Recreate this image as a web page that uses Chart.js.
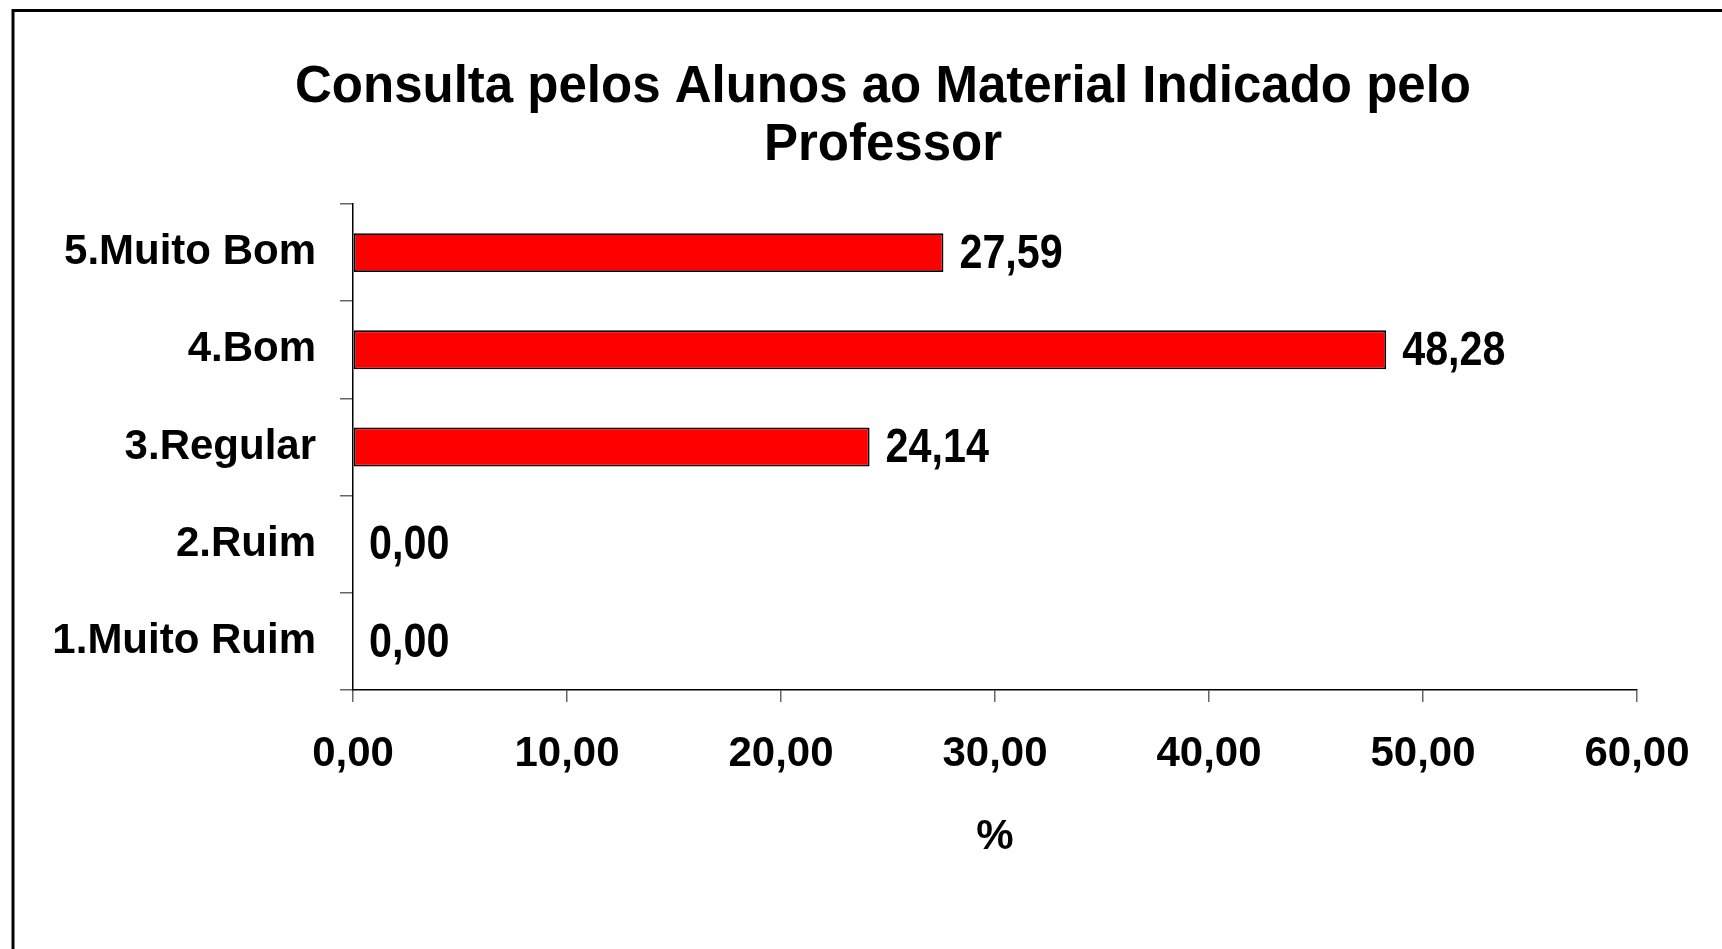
<!DOCTYPE html>
<html>
<head>
<meta charset="utf-8">
<script src="https://cdn.jsdelivr.net/npm/chart.js@4.4.1/dist/chart.umd.min.js"></script>
<style>
  html, body { margin: 0; padding: 0; background: #ffffff; overflow: hidden; }
  canvas { display: block; }
</style>
</head>
<body>
<canvas id="c" width="1722" height="949"></canvas>
<script>
// ---- data ----
const titleLines = ['Consulta pelos Alunos ao Material Indicado pelo', 'Professor'];
const categories = ['1.Muito Ruim', '2.Ruim', '3.Regular', '4.Bom', '5.Muito Bom'];
const values = [0.00, 0.00, 24.14, 48.28, 27.59];
const xTickLabels = ['0,00', '10,00', '20,00', '30,00', '40,00', '50,00', '60,00'];
const xAxisTitle = '%';

const FONT = "'Liberation Sans', Arial, Helvetica, sans-serif";

function fmt(v) { return v.toFixed(2).replace('.', ','); }

const framePlugin = {
  id: 'frame',
  beforeDraw(chart) {
    const ctx = chart.ctx;
    ctx.save();
    ctx.fillStyle = '#ffffff';
    ctx.fillRect(0, 0, chart.width, chart.height);
    ctx.strokeStyle = '#000000';
    ctx.lineWidth = 3;
    ctx.strokeRect(13, 10.5, chart.width + 50, chart.height + 50);
    // chart title (two centred lines)
    ctx.fillStyle = '#000000';
    ctx.font = "bold 51px " + FONT;
    ctx.textAlign = 'center';
    ctx.textBaseline = 'middle';
    const cx = 883;
    const ys = [88, 146];
    titleLines.forEach((t, i) => ctx.fillText(t, cx, ys[i]));
    ctx.restore();
  }
};

const valueLabelPlugin = {
  id: 'valueLabels',
  afterDatasetsDraw(chart) {
    const ctx = chart.ctx;
    const meta = chart.getDatasetMeta(0);
    ctx.save();
    ctx.fillStyle = '#000000';
    ctx.font = "bold 48px " + FONT;
    ctx.textBaseline = 'middle';
    ctx.textAlign = 'left';
    meta.data.forEach((bar, i) => {
      const sx = 0.86;
      ctx.save();
      ctx.translate(bar.x + 16, bar.y + 2);
      ctx.scale(sx, 1);
      ctx.fillText(fmt(values[i]), 0, 0);
      ctx.restore();
    });
    ctx.restore();
  }
};

new Chart(document.getElementById('c'), {
  type: 'bar',
  data: {
    labels: categories,
    datasets: [{
      data: values,
      backgroundColor: '#ff0000',
      borderColor: '#000000',
      borderWidth: 1.8,
      borderSkipped: false,
      barPercentage: 0.4,
      categoryPercentage: 1.0
    }]
  },
  options: {
    indexAxis: 'y',
    responsive: false,
    animation: false,
    devicePixelRatio: 1,
    layout: { padding: { left: 0, right: 85, top: 204, bottom: 86 } },
    plugins: {
      legend: { display: false },
      tooltip: { enabled: false },
      title: { display: false }
    },
    scales: {
      x: {
        type: 'linear',
        min: 0,
        max: 60,
        ticks: {
          stepSize: 10,
          color: '#000000',
          padding: 27,
          maxRotation: 0,
          font: { family: FONT, size: 42, weight: 'bold' },
          callback: (v, i) => xTickLabels[i]
        },
        grid: { drawOnChartArea: false, drawTicks: true, tickLength: 12, color: '#666666', lineWidth: 1.5 },
        border: { display: true, color: '#000000', width: 1.5 },
        title: {
          display: true,
          text: xAxisTitle,
          color: '#000000',
          font: { family: FONT, size: 42, weight: 'bold' },
          padding: { top: 0, bottom: 0 }
        },
        afterFit(scale) { scale.height = 173; }
      },
      y: {
        type: 'category',
        reverse: true,
        offset: true,
        ticks: {
          color: '#000000',
          padding: 24,
          font: { family: FONT, size: 42, weight: 'bold' }
        },
        grid: { drawOnChartArea: false, drawTicks: true, tickLength: 13, offset: true, color: '#666666', lineWidth: 1.5 },
        border: { display: true, color: '#000000', width: 1.5 },
        afterFit(scale) { scale.width = 353; }
      }
    }
  },
  plugins: [framePlugin, valueLabelPlugin]
});
</script>
</body>
</html>
